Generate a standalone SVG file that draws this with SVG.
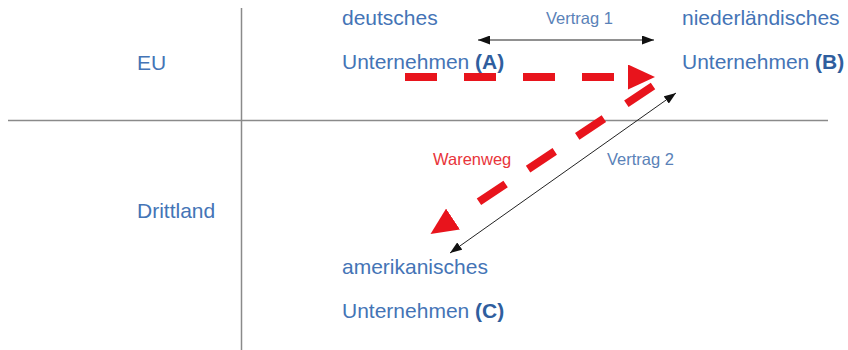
<svg xmlns="http://www.w3.org/2000/svg" width="848" height="350" viewBox="0 0 848 350">
<style>
.t{font-family:"Liberation Sans",Arial,sans-serif;font-size:21px;fill:#4474b6}
.b{font-weight:bold;fill:#2f5e9e}
.s{font-family:"Liberation Sans",Arial,sans-serif;font-size:16.5px}
.axis{stroke:#8a8a8a;stroke-width:1.5}
.thin{stroke:#222;stroke-width:1;fill:none}
.red{stroke:#e8141c;stroke-width:8;fill:none;stroke-dasharray:32 27 32 27 32 27 32 80}
</style>
<defs>
<marker id="ah" viewBox="0 0 10 10" refX="10" refY="5" markerWidth="12" markerHeight="9" markerUnits="userSpaceOnUse" orient="auto-start-reverse" preserveAspectRatio="none"><path d="M0,0L10,5L0,10z" fill="#111"/></marker>
<marker id="rh" viewBox="0 0 10 10" refX="0" refY="5" markerWidth="27" markerHeight="25" markerUnits="userSpaceOnUse" orient="auto" preserveAspectRatio="none"><path d="M0,0L10,5L0,10z" fill="#e8141c"/></marker>
</defs>
<rect width="848" height="350" fill="#fff"/>
<g id="axes">
<line class="axis" x1="241.5" y1="8" x2="241.5" y2="350"/>
<line class="axis" x1="8" y1="120.5" x2="828" y2="120.5"/>
</g>
<g id="zones">
<text class="t" x="137" y="70">EU</text>
<text class="t" x="137" y="218">Drittland</text>
</g>
<g id="nodeA">
<text class="t" x="342" y="25">deutsches</text>
<text class="t" x="342" y="69">Unternehmen <tspan class="b">(A)</tspan></text>
</g>
<g id="nodeB">
<text class="t" x="682" y="25">niederländisches</text>
<text class="t" x="682" y="69">Unternehmen <tspan class="b">(B)</tspan></text>
</g>
<g id="nodeC">
<text class="t" x="342" y="274">amerikanisches</text>
<text class="t" x="342" y="318">Unternehmen <tspan class="b">(C)</tspan></text>
</g>
<g id="connectors">
<line class="thin" x1="478" y1="40" x2="654" y2="40" marker-start="url(#ah)" marker-end="url(#ah)"/>
<text class="s" x="546" y="24" fill="#5a82b8">Vertrag 1</text>
<line class="thin" x1="450" y1="253" x2="676" y2="93" marker-start="url(#ah)" marker-end="url(#ah)"/>
<text class="s" x="607" y="165" fill="#5a82b8">Vertrag 2</text>
<path class="red" d="M405,77H628" marker-end="url(#rh)"/>
<path class="red" d="M653,86L453,219" marker-end="url(#rh)"/>
<text class="s" x="433" y="165" fill="#e8343a">Warenweg</text>
</g>
</svg>
